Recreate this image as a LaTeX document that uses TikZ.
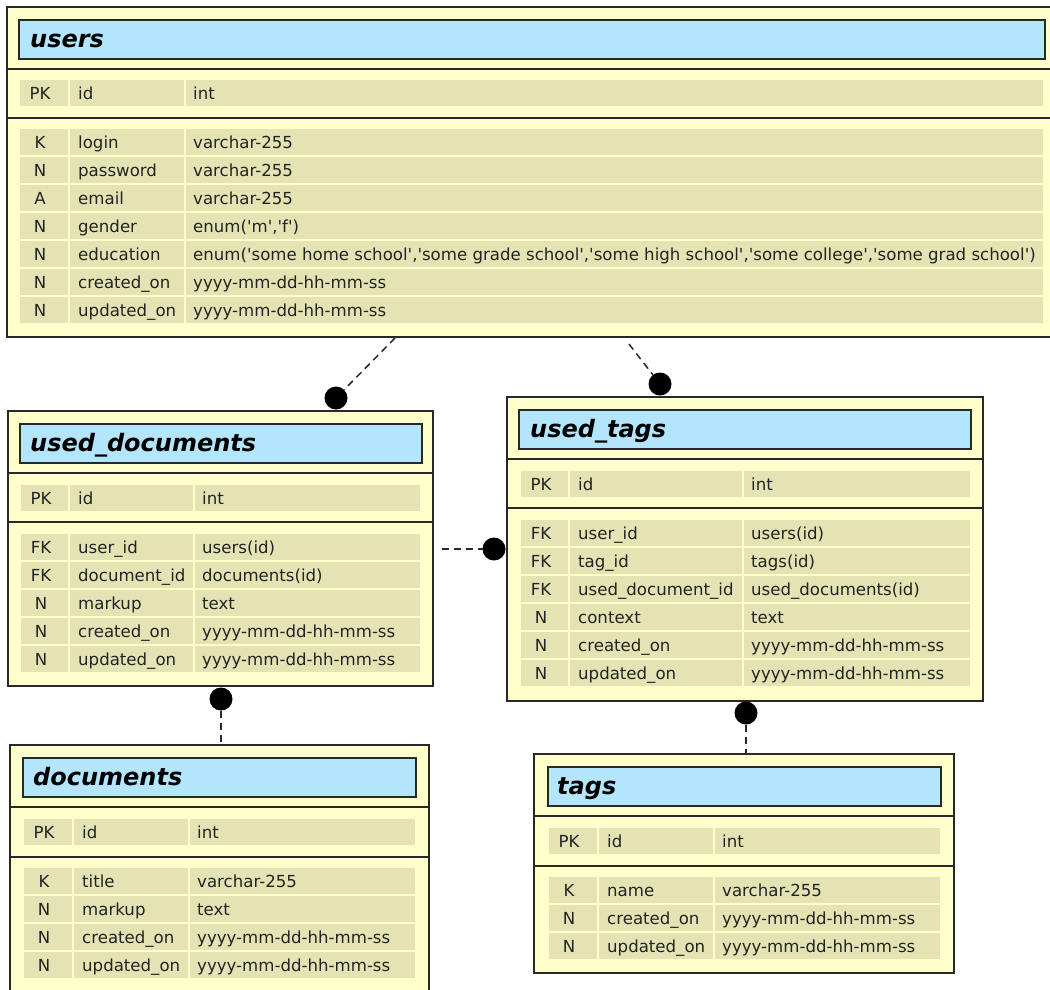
\documentclass[tikz,border=0pt]{standalone}
\usepackage{fontspec}
\setmainfont{DejaVu Sans}
\definecolor{boxfill}{RGB}{255,255,204}
\definecolor{cellfill}{RGB}{228,227,180}
\definecolor{headfill}{RGB}{179,229,252}
\definecolor{edge}{RGB}{40,40,40}
\definecolor{ink}{RGB}{35,35,35}
\newcommand\tq{\textquotesingle}
% current table: prefix, key column x, name column x, type column x, right end
\newcommand\settable[5]{\def\tp{#1}\def\kx{#2}\def\nx{#3}\def\tx{#4}\def\rx{#5}}
% one attribute row: index, y centre, key, name, type
\newcommand\erdrow[5]{%
  \fill[cell] (\kx,#2-13) rectangle (\nx-2,#2+13);
  \fill[cell] (\nx,#2-13) rectangle (\tx-2,#2+13);
  \fill[cell] (\tx,#2-13) rectangle (\rx,#2+13);
  \node[keytext]  (\tp-#1-key)  at (\kx+20,#2+6) {#3};
  \node[celltext] (\tp-#1-name) at (\nx+8,#2+6) {#4};
  \node[celltext] (\tp-#1-type) at (\tx+7,#2+6) {#5};
}
\tikzset{
  tablebox/.style={draw=edge, fill=boxfill, line width=2pt, anchor=north west, inner sep=0pt, outer sep=0pt},
  headbox/.style={draw=edge, fill=headfill, line width=1.6pt, anchor=north west, inner sep=0pt, outer sep=0pt},
  titletext/.style={anchor=base west, inner sep=0pt, text=black, font=\fontsize{24}{27}\selectfont\bfseries\itshape},
  celltext/.style={anchor=base west, inner sep=0pt, text=ink, font=\fontsize{16.6}{19}\selectfont},
  keytext/.style={anchor=base, inner sep=0pt, text=ink, font=\fontsize{16.6}{19}\selectfont},
  cell/.style={fill=cellfill},
  divider/.style={draw=edge, line width=2pt},
  dot/.style={circle, fill=black, minimum size=23pt, inner sep=0pt, outer sep=0pt},
  conn/.style={draw=edge, line width=1.5pt, dash pattern=on 7pt off 5pt},
}
\begin{document}
\begin{tikzpicture}[x=1pt, y=-1pt]
\useasboundingbox (0,0) rectangle (1050,989);
\clip (0,0) rectangle (1050,989);
\fill[white] (0,0) rectangle (1050,989);

% ---------- users ----------
\node[tablebox, minimum width=1060pt, minimum height=330pt] (users) at (7,7) {};
\node[headbox, minimum width=1026pt, minimum height=39pt] (users-head) at (19,20) {};
\node[titletext] (users-title) at (30,47) {users};
\draw[divider] (users.west |- 0,69) -- (users.east |- 0,69);
\draw[divider] (users.west |- 0,118) -- (users.east |- 0,118);
\settable{users}{20}{70}{186}{1043}
\erdrow{0}{93}{PK}{id}{int}
\erdrow{1}{142}{K}{login}{varchar-255}
\erdrow{2}{170}{N}{password}{varchar-255}
\erdrow{3}{198}{A}{email}{varchar-255}
\erdrow{4}{226}{N}{gender}{enum(\tq m\tq,\tq f\tq)}
\erdrow{5}{254}{N}{education}{enum(\tq some home school\tq,\tq some grade school\tq,\tq some high school\tq,\tq some college\tq,\tq some grad school\tq)}
\erdrow{6}{282}{N}{created\_on}{yyyy-mm-dd-hh-mm-ss}
\erdrow{7}{310}{N}{updated\_on}{yyyy-mm-dd-hh-mm-ss}

% ---------- used_documents ----------
\node[tablebox, minimum width=425pt, minimum height=275pt] (useddocs) at (8,411) {};
\node[headbox, minimum width=402pt, minimum height=39pt] (useddocs-head) at (20,424) {};
\node[titletext] (useddocs-title) at (30,451) {used\_documents};
\draw[divider] (useddocs.west |- 0,473) -- (useddocs.east |- 0,473);
\draw[divider] (useddocs.west |- 0,522) -- (useddocs.east |- 0,522);
\settable{useddocs}{21}{70}{195}{420}
\erdrow{0}{498}{PK}{id}{int}
\erdrow{1}{547}{FK}{user\_id}{users(id)}
\erdrow{2}{575}{FK}{document\_id}{documents(id)}
\erdrow{3}{603}{N}{markup}{text}
\erdrow{4}{631}{N}{created\_on}{yyyy-mm-dd-hh-mm-ss}
\erdrow{5}{659}{N}{updated\_on}{yyyy-mm-dd-hh-mm-ss}

% ---------- used_tags ----------
\node[tablebox, minimum width=476pt, minimum height=304pt] (usedtags) at (507,397) {};
\node[headbox, minimum width=452pt, minimum height=39pt] (usedtags-head) at (519,410) {};
\node[titletext] (usedtags-title) at (530,437) {used\_tags};
\draw[divider] (usedtags.west |- 0,459) -- (usedtags.east |- 0,459);
\draw[divider] (usedtags.west |- 0,508) -- (usedtags.east |- 0,508);
\settable{usedtags}{521}{570}{744}{970}
\erdrow{0}{484}{PK}{id}{int}
\erdrow{1}{533}{FK}{user\_id}{users(id)}
\erdrow{2}{561}{FK}{tag\_id}{tags(id)}
\erdrow{3}{589}{FK}{used\_document\_id}{used\_documents(id)}
\erdrow{4}{617}{N}{context}{text}
\erdrow{5}{645}{N}{created\_on}{yyyy-mm-dd-hh-mm-ss}
\erdrow{6}{673}{N}{updated\_on}{yyyy-mm-dd-hh-mm-ss}

% ---------- documents ----------
\node[tablebox, minimum width=419pt, minimum height=260pt] (documents) at (10,745) {};
\node[headbox, minimum width=393pt, minimum height=39pt] (documents-head) at (23,758) {};
\node[titletext] (documents-title) at (33,785) {documents};
\draw[divider] (documents.west |- 0,807) -- (documents.east |- 0,807);
\draw[divider] (documents.west |- 0,857) -- (documents.east |- 0,857);
\settable{documents}{24}{74}{190}{415}
\erdrow{0}{832}{PK}{id}{int}
\erdrow{1}{881}{K}{title}{varchar-255}
\erdrow{2}{909}{N}{markup}{text}
\erdrow{3}{937}{N}{created\_on}{yyyy-mm-dd-hh-mm-ss}
\erdrow{4}{965}{N}{updated\_on}{yyyy-mm-dd-hh-mm-ss}

% ---------- tags ----------
\node[tablebox, minimum width=420pt, minimum height=219pt] (tags) at (534,754) {};
\node[headbox, minimum width=393pt, minimum height=39pt] (tags-head) at (548,767) {};
\node[titletext] (tags-title) at (557,794) {tags};
\draw[divider] (tags.west |- 0,816) -- (tags.east |- 0,816);
\draw[divider] (tags.west |- 0,866) -- (tags.east |- 0,866);
\settable{tags}{549}{599}{715}{940}
\erdrow{0}{841}{PK}{id}{int}
\erdrow{1}{890}{K}{name}{varchar-255}
\erdrow{2}{918}{N}{created\_on}{yyyy-mm-dd-hh-mm-ss}
\erdrow{3}{946}{N}{updated\_on}{yyyy-mm-dd-hh-mm-ss}

% ---------- relationships ----------
\node[dot] (dot-useddocs) at (336,398) {};
\node[dot] (dot-usedtags) at (660,384) {};
\node[dot] (dot-link) at (494,549) {};
\node[dot] (dot-documents) at (221,699) {};
\node[dot] (dot-tags) at (746,713) {};
\coordinate (users-out-a) at (395,338);
\coordinate (users-out-b) at (629,344);
\coordinate (useddocs-out) at (442,549);
\draw[conn] (users-out-a) -- (dot-useddocs);
\draw[conn] (users-out-b) -- (dot-usedtags);
\draw[conn] (useddocs-out) -- (dot-link);
\draw[conn] (dot-documents) -- (documents.north -| dot-documents);
\draw[conn] (dot-tags) -- (tags.north -| dot-tags);
\end{tikzpicture}
\end{document}
